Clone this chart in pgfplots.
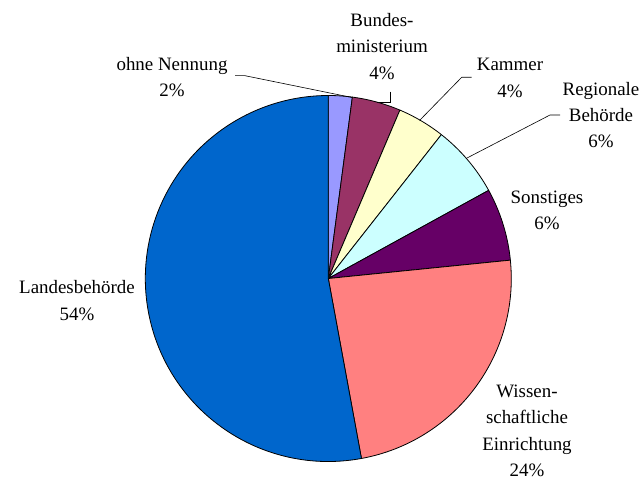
\documentclass[border=0pt]{standalone}
\usepackage{pgfplots}
\pgfplotsset{compat=1.18}
\usepackage{pgfplotstable}
\usepackage{fontspec}
\setmainfont{Liberation Serif}

\definecolor{pie0}{HTML}{9999FF}
\definecolor{pie1}{HTML}{993366}
\definecolor{pie2}{HTML}{FFFFCC}
\definecolor{pie3}{HTML}{CCFFFF}
\definecolor{pie4}{HTML}{660066}
\definecolor{pie5}{HTML}{FF8080}
\definecolor{pie6}{HTML}{0066CC}

\tikzset{lbl/.style={font=\fontsize{19}{26.5}\selectfont, align=center, inner sep=0pt}}

% share in percent, clockwise from 12 o'clock
\pgfplotstableread{
name value
ohne 2.1
bund 4.3
kammer 4.2
regional 6.4
sonst 6.4
wiss 23.7
land 52.9
}\piedata

\begin{document}
\begin{tikzpicture}
% start/end angle of every slice
\pgfplotstablegetrowsof{\piedata}
\pgfmathtruncatemacro\lastrow{\pgfplotsretval-1}
\xdef\curangle{90}
\foreach \i in {0,...,\lastrow}{
  \pgfplotstablegetelem{\i}{value}\of\piedata
  \pgfmathsetmacro\nextangle{\curangle-3.6*\pgfplotsretval}
  \expandafter\xdef\csname pieS\i\endcsname{\curangle}
  \expandafter\xdef\csname pieE\i\endcsname{\nextangle}
  \xdef\curangle{\nextangle}
}
\begin{axis}[
    scale only axis,
    width=641bp, height=481bp,
    xmin=0, xmax=641, ymin=0, ymax=481,
    y dir=reverse,
    hide axis,
    clip=false,
]
% keep the page as large as the axis box
\path (axis cs:0,0) rectangle (axis cs:641,481);

\pgfplotsinvokeforeach{0,...,6}{
  \draw[fill=pie#1, line width=0.8bp, line join=round]
    (axis cs:328.3,278.5) -- ++(\csname pieS#1\endcsname:183bp)
    arc[start angle=\csname pieS#1\endcsname, end angle=\csname pieE#1\endcsname, radius=183bp]
    -- cycle;
}

% leader lines
\draw[line width=0.6bp] (axis cs:235,75.7) -- (axis cs:245,75.7) -- (axis cs:352,97.5);
\draw[line width=0.6bp] (axis cs:390,91.7) -- (axis cs:390,102.3) -- (axis cs:377,102.3);
\draw[line width=0.6bp] (axis cs:471.7,77.3) -- (axis cs:461.7,77.3) -- (axis cs:419.5,120.5);
\draw[line width=0.6bp] (axis cs:560,115) -- (axis cs:550,115) -- (axis cs:467,158);

% labels
\node[lbl] at (axis cs:172,77) {ohne Nennung\\2\%};
\node[lbl] at (axis cs:382,46.5) {Bundes-\\ministerium\\4\%};
\node[lbl] at (axis cs:510,78) {Kammer\\4\%};
\node[lbl] at (axis cs:601,115) {Regionale\\Behörde\\6\%};
\node[lbl] at (axis cs:547,210.5) {Sonstiges\\6\%};
\node[lbl] at (axis cs:77,300.5) {Landesbehörde\\54\%};
\node[lbl] at (axis cs:527,431) {Wissen-\\schaftliche\\Einrichtung\\24\%};
\end{axis}
\end{tikzpicture}
\end{document}
